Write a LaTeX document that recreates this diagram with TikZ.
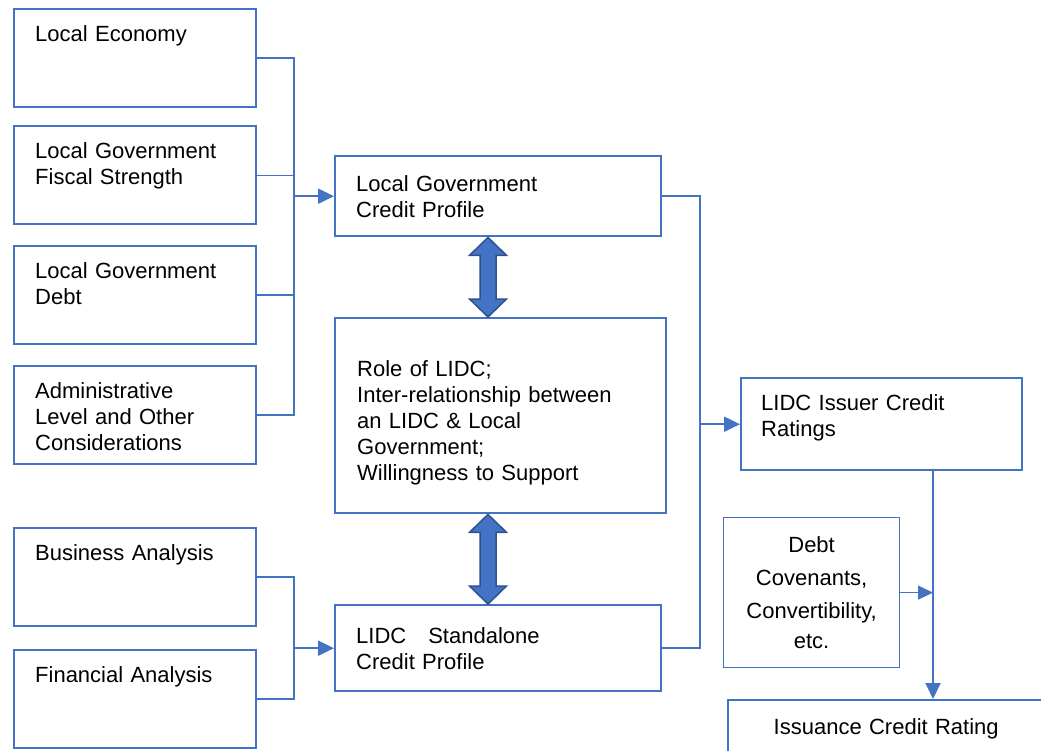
\documentclass[tikz,border=0pt]{standalone}
\usepackage{fontspec}
\setmainfont{Liberation Sans}
\usepackage{tikz}
\usetikzlibrary{arrows.meta}
\usetikzlibrary{calc}
\usetikzlibrary{positioning}
\definecolor{boxblue}{HTML}{4472C4}
\definecolor{darkblue}{HTML}{2F528F}
\tikzstyle{factor}=[rectangle,draw=boxblue,line width=2.4pt,anchor=north west,inner xsep=21pt,inner ysep=0pt,text width=200pt,text height=32pt,text depth=66pt,align=left]
\tikzstyle{profile}=[rectangle,draw=boxblue,line width=2.4pt,anchor=north west,inner xsep=21pt,align=left]
\tikzstyle{extra}=[rectangle,draw=boxblue,line width=1.2pt,anchor=north west,inner xsep=8pt,align=center]
\tikzstyle{link}=[draw=boxblue,line width=2pt]
\tikzstyle{thinlink}=[draw=boxblue,line width=1pt]
\tikzstyle{feed}=[link,-{Triangle[length=16pt,width=15pt]}]
\tikzstyle{thinfeed}=[thinlink,-{Triangle[length=15pt,width=14pt]}]
\tikzstyle{bothways}=[fill=boxblue,draw=darkblue,line width=1.5pt,line join=miter]
\newcommand \dblarrow [2] {\filldraw[bothways] (#1) -- ++(18.5,18) -- ++(-10.5,0) -- ($(#2)+(8,-18)$) -- ++(10.5,0) -- (#2) -- ++(-18.5,-18) -- ++(10.5,0) -- ($(#1)+(-8,18)$) -- ++(-10.5,0) -- cycle;}

\begin{document}
\begin{tikzpicture}[x=1pt,y=-1pt,font=\fontsize{22}{26}\selectfont]
    \useasboundingbox (0,0) rectangle (1041,751);
    % left column
    \node[factor] at (13,8) (economy) {Local Economy};
    \node[factor] at (13,125) (fiscal) {Local Government\\Fiscal Strength};
    \node[factor] at (13,245) (govdebt) {Local Government\\Debt};
    \node[factor] at (13,365) (admin) {Administrative\\Level and Other\\Considerations};
    \node[factor] at (13,527) (business) {Business Analysis};
    \node[factor] at (13,649) (financial) {Financial Analysis};
    % middle column
    \node[profile,text width=284pt,minimum height=80pt] at (334,155) (govprofile) {Local Government\\Credit Profile};
    \node[profile,inner xsep=22pt,text width=287pt,minimum height=195pt,text height=30pt] at (334,317) (role) {Role of LIDC;\\Inter-relationship between\\an LIDC \& Local\\Government;\\Willingness to Support};
    \node[profile,text width=284pt,minimum height=86pt] at (334,604) (standalone) {LIDC\hspace{22pt}Standalone\\Credit Profile};
    % right column
    \node[profile,inner xsep=20pt,text width=241pt,minimum height=92pt,text depth=44pt] at (740,377) (issuer) {LIDC Issuer Credit\\Ratings};
    \node[extra,text width=160pt,minimum height=150pt] at (723,517) (covenants) {\fontsize{22}{33}\selectfont Debt\\Covenants,\\Convertibility,\\[4pt]etc.};
    \node[profile,inner xsep=0pt,text width=316pt,minimum height=58pt,align=center] at (727,699) (issuance) {Issuance Credit Rating};
    % junctions
    \coordinate (jl) at (294,0);
    \coordinate (jr) at (700,0);
    \coordinate (jd) at (933,0);
    \coordinate (ax) at (488,0);
    % connectors
    \draw[link] (economy.east) -| (jl |- admin.east) -- (admin.east);
    \draw[thinlink] (fiscal.east) -- (fiscal.east -| jl);
    \draw[link] (govdebt.east) -- (govdebt.east -| jl);
    \draw[feed] (jl |- govprofile.west) -- (govprofile.west);
    \draw[link] (business.east) -| (jl |- financial.east) -- (financial.east);
    \draw[feed] (jl |- standalone.west) -- (standalone.west);
    \draw[link] (govprofile.east) -| (jr |- standalone.east) -- (standalone.east);
    \draw[feed] (jr |- issuer.west) -- (issuer.west);
    \draw[feed] (jd |- issuer.south) -- (jd |- issuance.north);
    \draw[thinfeed] (covenants.east) -- (jd |- covenants.east);
    % two-way arrows
    \coordinate (a1) at (ax |- govprofile.south);
    \coordinate (a2) at (ax |- role.north);
    \coordinate (a3) at (ax |- role.south);
    \coordinate (a4) at (ax |- standalone.north);
    \dblarrow{a1}{a2}
    \dblarrow{a3}{a4}
\end{tikzpicture}
\end{document}
